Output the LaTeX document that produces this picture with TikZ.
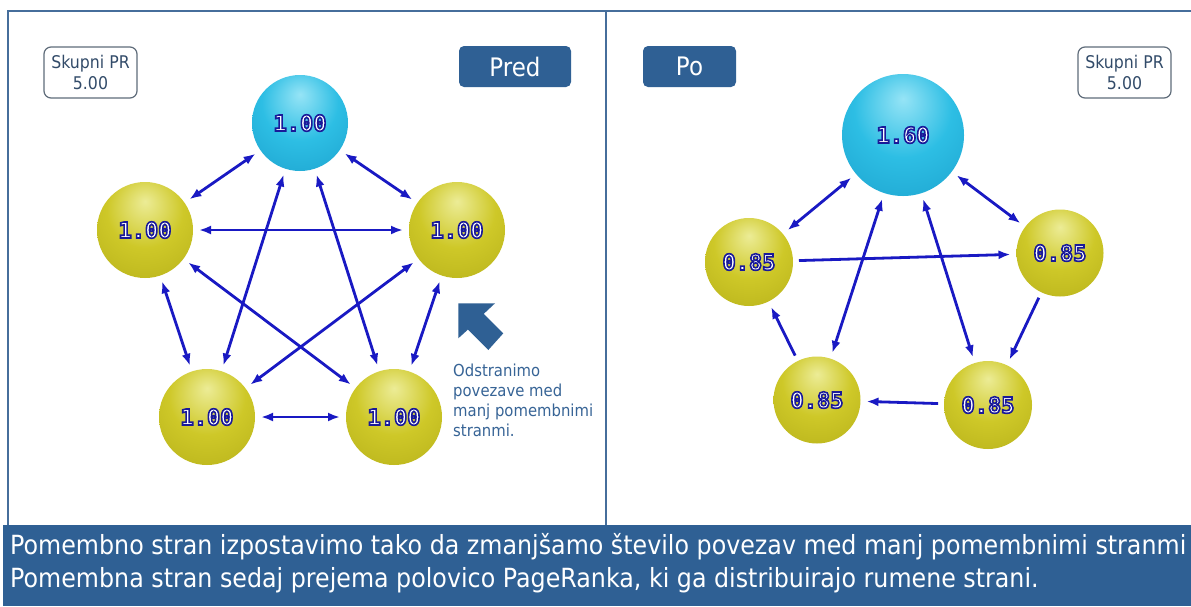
\documentclass[tikz,border=0pt]{standalone}
\usepackage{fontspec}
\setmainfont{DejaVu Sans}[FakeStretch=0.9]
\newfontfamily\lblfont{DejaVu Sans Mono}
\usetikzlibrary{arrows.meta}

\definecolor{frameblue}{RGB}{70,110,155}
\definecolor{boxblue}{RGB}{47,96,148}
\definecolor{edgeblue}{RGB}{25,25,195}
\definecolor{notecol}{RGB}{55,100,150}
\definecolor{prtext}{RGB}{50,75,105}
\definecolor{prborder}{RGB}{95,108,122}
\definecolor{cyhi}{RGB}{150,228,246}
\definecolor{cymid}{RGB}{45,190,228}
\definecolor{cylo}{RGB}{24,155,200}
\definecolor{cyedge}{RGB}{14,115,155}
\definecolor{yehi}{RGB}{236,236,150}
\definecolor{yemid}{RGB}{206,200,40}
\definecolor{yelo}{RGB}{176,170,22}
\definecolor{yeedge}{RGB}{122,118,10}

\pgfdeclareradialshading{cyanball}{\pgfpoint{0bp}{15bp}}{color(0bp)=(cyhi); color(20bp)=(cymid); color(48bp)=(cylo); color(70bp)=(cyedge)}
\pgfdeclareradialshading{yellowball}{\pgfpoint{0bp}{15bp}}{color(0bp)=(yehi); color(20bp)=(yemid); color(48bp)=(yelo); color(70bp)=(yeedge)}

% outlined label: white fill, dark blue stroke (PDF text render mode 2)
\newcommand{\lbl}[1]{{\lblfont\bfseries\fontsize{22}{22}\selectfont\color{white}%
  \special{pdf:literal direct 2 Tr 1.6 w 0.1 0.1 0.6 RG}#1\special{pdf:literal direct 0 Tr}}}

\tikzset{
  ball/.style={circle, inner sep=0pt, outer sep=6pt, minimum size=#1},
  cball/.style={ball=#1, shading=cyanball},
  yball/.style={ball=#1, shading=yellowball},
  edge/.style={draw=edgeblue, line width=2.8pt},
  both/.style={edge, arrows={Latex[length=12pt,width=9pt]-Latex[length=12pt,width=9pt]}},
  one/.style={edge, arrows={-Latex[length=12pt,width=9pt]}},
  prbox/.style={draw=prborder, line width=1.2pt, rounded corners=7pt, fill=white,
    minimum width=93pt, minimum height=51pt, align=center, text=prtext, inner sep=0pt,
    font=\fontsize{17.5}{21}\selectfont},
  tag/.style={fill=boxblue, rounded corners=5pt, text=white, minimum height=41pt,
    inner sep=0pt, font=\fontsize{25.5}{30}\selectfont},
}

\begin{document}
\begin{tikzpicture}[x=1pt,y=-1pt]
\useasboundingbox (0,0) rectangle (1191,606);
\fill[white] (0,0) rectangle (1191,606);

% frame
\draw[frameblue, line width=2pt] (8.4,525) -- (8.4,10.7) -- (1191,10.7);
\draw[frameblue, line width=2pt] (605.7,10.7) -- (605.7,525);

% left panel
\node[prbox] (prL) at (90.5,72.5) {Skupni PR\\5.00};
\node[tag, minimum width=112pt] (pred) at (515,66.5) {Pred};

\node[cball=96pt] (T1) at (300,123) {\lbl{1.00}};
\node[yball=96pt] (L1) at (145,230) {\lbl{1.00}};
\node[yball=96pt] (R1) at (457,230) {\lbl{1.00}};
\node[yball=96pt] (BL1) at (207,417) {\lbl{1.00}};
\node[yball=96pt] (BR1) at (394,417) {\lbl{1.00}};

\draw[both] (T1) -- (L1);
\draw[both] (T1) -- (R1);
\draw[both] (L1) -- (R1);
\draw[both] (T1) -- (BL1);
\draw[both] (T1) -- (BR1);
\draw[both] (L1) -- (BL1);
\draw[both] (L1) -- (BR1);
\draw[both] (R1) -- (BL1);
\draw[both] (R1) -- (BR1);
\draw[both] (BL1) -- (BR1);

\fill[boxblue, line join=round] (458.3,303.3) -- (495,303.3) -- (483.8,313.8) -- (503.3,333.3)
  -- (488.3,350) -- (467.9,329.6) -- (458.3,338.3) -- cycle;
\node[anchor=north west, align=left, text=notecol, inner sep=0pt,
  font=\fontsize{16.5}{20}\selectfont] (note) at (453,364)
  {Odstranimo\\povezave med\\manj pomembnimi\\stranmi.};

% right panel
\node[tag, minimum width=93pt] (po) at (689.5,66.5) {Po};
\node[prbox] (prR) at (1124.5,72.5) {Skupni PR\\5.00};

\node[cball=122pt] (T2) at (903,135) {\lbl{1.60}};
\node[yball=88pt] (L2) at (749,262) {\lbl{0.85}};
\node[yball=87pt] (R2) at (1060,253) {\lbl{0.85}};
\node[yball=87pt] (BL2) at (817,400) {\lbl{0.85}};
\node[yball=88pt] (BR2) at (988,405) {\lbl{0.85}};

\draw[both] (T2) -- (L2);
\draw[both] (T2) -- (R2);
\draw[both] (T2) -- (BL2);
\draw[both] (T2) -- (BR2);
\draw[one] (L2) -- (R2);
\draw[one] (BL2) -- (L2);
\draw[one] (R2) -- (BR2);
\draw[one] (BR2) -- (BL2);

% bottom band
\fill[boxblue] (3,525) rectangle (1191,606);
\node[anchor=west, align=left, text=white, inner sep=0pt,
  font=\fontsize{26.4}{33}\selectfont] (band) at (10,563)
  {Pomembno stran izpostavimo tako da zmanjšamo število povezav med manj pomembnimi stranmi\\
   Pomembna stran sedaj prejema polovico PageRanka, ki ga distribuirajo rumene strani.};
\end{tikzpicture}
\end{document}
